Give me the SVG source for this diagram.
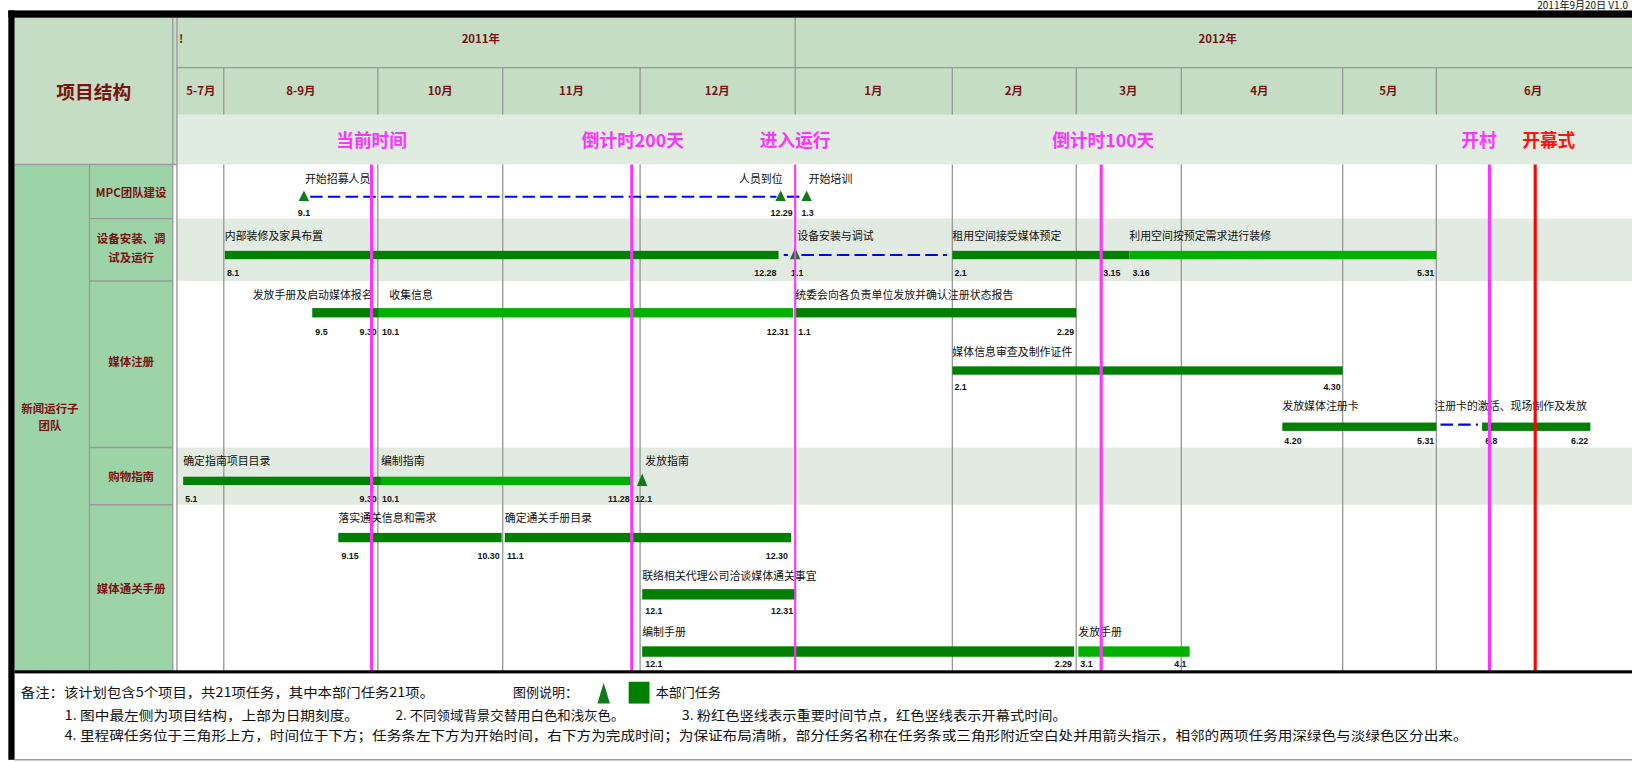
<svg xmlns="http://www.w3.org/2000/svg" width="1632" height="762" viewBox="0 0 1632 762">
<defs>
<style>
.cjk{font-family:"Noto Sans CJK SC","Liberation Sans",sans-serif}
.hdr{font-family:"Noto Sans CJK SC","Liberation Sans",sans-serif;fill:#7a1212;font-weight:bold}
.ms{font-family:"Noto Sans CJK SC","Liberation Sans",sans-serif;fill:#ff33ff;font-weight:bold;font-size:17px}
.tl{font-family:"Noto Sans CJK SC","Liberation Sans",sans-serif;fill:#111;font-size:10.5px}
.dt{font-family:"Liberation Sans",sans-serif;fill:#111;font-size:8.5px;font-weight:bold}
.ft{font-family:"Noto Sans CJK SC","Liberation Sans",sans-serif;fill:#111;font-size:12.5px}
.grid{stroke:#999;stroke-width:1.3}
.dk{fill:#008000}
.lt{fill:#00b000}
.tri{fill:#0f7a1a}
.dash{stroke:#0000ff;stroke-width:2;stroke-dasharray:12 5;fill:none}
.mg{stroke:#ff33ff;stroke-width:3}
</style>
</defs>
<rect width="1632" height="762" fill="#ffffff"/>
<text x="1628" y="9" text-anchor="end" class="cjk" font-size="10" fill="#111">2011年9月20日 V1.0</text>
<g transform="scale(1.040816)">
 <!-- header -->
 <g id="header">
  <rect x="14" y="17" width="1560" height="141" fill="#c5ddc5"/>
  <rect x="170" y="110" width="1400" height="48" fill="#e0ece0"/>
  <line x1="166" y1="17" x2="166" y2="158" class="grid"/>
  <line x1="170" y1="17" x2="170" y2="158" class="grid"/>
  <line x1="170" y1="65" x2="1570" y2="65" class="grid"/>
  <line x1="764" y1="17" x2="764" y2="65" class="grid"/>
  <g class="grid">
   <line x1="215" y1="65" x2="215" y2="110"/><line x1="363" y1="65" x2="363" y2="110"/>
   <line x1="483" y1="65" x2="483" y2="110"/><line x1="615" y1="65" x2="615" y2="110"/>
   <line x1="764" y1="65" x2="764" y2="110"/><line x1="915" y1="65" x2="915" y2="110"/>
   <line x1="1034" y1="65" x2="1034" y2="110"/><line x1="1135" y1="65" x2="1135" y2="110"/>
   <line x1="1290" y1="65" x2="1290" y2="110"/><line x1="1380" y1="65" x2="1380" y2="110"/>
  </g>
  <text x="90" y="95" text-anchor="middle" class="hdr" font-size="18">项目结构</text>
  <text x="172" y="41" class="hdr" font-size="11">!</text>
  <text x="462" y="41" text-anchor="middle" class="hdr" font-size="11">2011年</text>
  <text x="1170" y="41" text-anchor="middle" class="hdr" font-size="11">2012年</text>
  <g class="hdr" font-size="11" text-anchor="middle">
   <text x="193" y="91">5-7月</text><text x="289" y="91">8-9月</text><text x="423" y="91">10月</text>
   <text x="549" y="91">11月</text><text x="689" y="91">12月</text><text x="839" y="91">1月</text>
   <text x="974" y="91">2月</text><text x="1084" y="91">3月</text><text x="1210" y="91">4月</text>
   <text x="1334" y="91">5月</text><text x="1473" y="91">6月</text>
  </g>
  <g class="ms" text-anchor="middle">
   <text x="357" y="141">当前时间</text><text x="608" y="141">倒计时200天</text>
   <text x="764" y="141">进入运行</text><text x="1060" y="141">倒计时100天</text>
   <text x="1421" y="141">开村</text><text x="1488" y="141" fill="#ff1111">开幕式</text>
  </g>
 </g>
 <!-- body backgrounds -->
 <g id="bands">
  <rect x="170" y="158" width="1400" height="487" fill="#ffffff"/>
  <rect x="170" y="210" width="1400" height="60" fill="#e1ebe1"/>
  <rect x="170" y="430" width="1400" height="55" fill="#e1ebe1"/>
 </g>
 <g id="left-structure">
  <rect x="14" y="158" width="152" height="487" fill="#9cd4a7"/>
  <g class="grid">
   <line x1="14" y1="158" x2="170" y2="158"/><line x1="86" y1="158" x2="86" y2="645"/>
   <line x1="86" y1="210" x2="166" y2="210"/><line x1="86" y1="270" x2="166" y2="270"/>
   <line x1="86" y1="430" x2="166" y2="430"/><line x1="86" y1="485" x2="166" y2="485"/>
   <line x1="166" y1="158" x2="166" y2="645"/><line x1="170" y1="158" x2="170" y2="645"/>
  </g>
  <g class="hdr" font-size="11" text-anchor="middle" font-weight="normal">
   <text x="48" y="397">新闻运行子</text><text x="48" y="413">团队</text>
   <text x="126" y="189">MPC团队建设</text>
   <text x="126" y="233">设备安装、调</text><text x="126" y="252">试及运行</text>
   <text x="126" y="352">媒体注册</text>
   <text x="126" y="462">购物指南</text>
   <text x="126" y="570">媒体通关手册</text>
  </g>
 </g>
 <g id="gridlines" class="grid">
  <line x1="215" y1="158" x2="215" y2="645"/><line x1="363" y1="158" x2="363" y2="645"/>
  <line x1="483" y1="158" x2="483" y2="645"/><line x1="615" y1="158" x2="615" y2="645"/>
  <line x1="915" y1="158" x2="915" y2="645"/><line x1="1034" y1="158" x2="1034" y2="645"/>
  <line x1="1135" y1="158" x2="1135" y2="645"/><line x1="1290" y1="158" x2="1290" y2="645"/>
  <line x1="1380" y1="158" x2="1380" y2="645"/>
 </g>
 <!-- connectors -->
 <g id="connectors">
  <line x1="298" y1="189" x2="746" y2="189" class="dash"/>
  <line x1="756" y1="189" x2="770" y2="189" class="dash"/>
  <line x1="753" y1="245" x2="757" y2="245" class="dash"/>
  <line x1="770" y1="245" x2="910" y2="245" class="dash"/>
  <line x1="1384" y1="408" x2="1420" y2="408" class="dash"/>
 </g>
 <!-- MPC -->
 <g id="mpc">
  <polygon points="292,183 287,193 297,193" class="tri"/>
  <polygon points="750,183 745,193 755,193" class="tri"/>
  <polygon points="775,183 770,193 780,193" class="tri"/>
  <text x="293" y="176" class="tl">开始招募人员</text>
  <text x="752" y="176" class="tl" text-anchor="end">人员到位</text>
  <text x="777" y="176" class="tl">开始培训</text>
  <text x="292" y="208" class="dt" text-anchor="middle">9.1</text>
  <text x="751" y="208" class="dt" text-anchor="middle">12.29</text>
  <text x="770" y="208" class="dt">1.3</text>
 </g>
 <g id="equipment">
  <rect x="216" y="241" width="532" height="8" class="dk"/>
  <polygon points="764,238 759,249 769,249" class="tri"/>
  <rect x="915" y="241" width="170" height="8" class="dk"/>
  <rect x="1085" y="241" width="295" height="8" class="lt"/>
  <text x="216" y="231" class="tl">内部装修及家具布置</text>
  <text x="766" y="231" class="tl">设备安装与调试</text>
  <text x="915" y="231" class="tl">租用空间接受媒体预定</text>
  <text x="1085" y="231" class="tl">利用空间按预定需求进行装修</text>
  <text x="218" y="265" class="dt">8.1</text><text x="746" y="265" class="dt" text-anchor="end">12.28</text>
  <text x="760" y="265" class="dt">1.1</text><text x="917" y="265" class="dt">2.1</text>
  <text x="1060" y="265" class="dt">3.15</text><text x="1088" y="265" class="dt">3.16</text>
  <text x="1378" y="265" class="dt" text-anchor="end">5.31</text>
 </g>
 <g id="registration">
  <rect x="300" y="296" width="64" height="9" class="dk"/>
  <rect x="364" y="296" width="398" height="9" class="lt"/>
  <rect x="764" y="296" width="270" height="9" class="dk"/>
  <rect x="915" y="352" width="375" height="8" class="dk"/>
  <rect x="1232" y="406" width="148" height="8" class="dk"/>
  <rect x="1424" y="406" width="104" height="8" class="dk"/>
  <text x="358" y="287" class="tl" text-anchor="end">发放手册及启动媒体报名</text>
  <text x="374" y="287" class="tl">收集信息</text>
  <text x="764" y="287" class="tl">统委会向各负责单位发放并确认注册状态报告</text>
  <text x="915" y="342" class="tl">媒体信息审查及制作证件</text>
  <text x="1232" y="394" class="tl">发放媒体注册卡</text>
  <text x="1378" y="394" class="tl">注册卡的激活、现场制作及发放</text>
  <text x="303" y="322" class="dt">9.5</text><text x="362" y="322" class="dt" text-anchor="end">9.30</text>
  <text x="367" y="322" class="dt">10.1</text><text x="758" y="322" class="dt" text-anchor="end">12.31</text>
  <text x="767" y="322" class="dt">1.1</text><text x="1032" y="322" class="dt" text-anchor="end">2.29</text>
  <text x="917" y="375" class="dt">2.1</text><text x="1288" y="375" class="dt" text-anchor="end">4.30</text>
  <text x="1234" y="427" class="dt">4.20</text><text x="1378" y="427" class="dt" text-anchor="end">5.31</text>
  <text x="1427" y="427" class="dt">6.8</text><text x="1526" y="427" class="dt" text-anchor="end">6.22</text>
 </g>
 <g id="guide">
  <rect x="176" y="458" width="190" height="8" class="dk"/>
  <rect x="366" y="458" width="241" height="8" class="lt"/>
  <polygon points="617,455 612,467 622,467" class="tri"/>
  <text x="176" y="447" class="tl">确定指南项目目录</text>
  <text x="366" y="447" class="tl">编制指南</text>
  <text x="620" y="447" class="tl">发放指南</text>
  <text x="178" y="482" class="dt">5.1</text><text x="362" y="482" class="dt" text-anchor="end">9.30</text>
  <text x="367" y="482" class="dt">10.1</text><text x="605" y="482" class="dt" text-anchor="end">11.28</text>
  <text x="610" y="482" class="dt">12.1</text>
 </g>
 <g id="customs">
  <rect x="325" y="512" width="157" height="9" class="dk"/>
  <rect x="485" y="512" width="275" height="9" class="dk"/>
  <rect x="617" y="566" width="148" height="10" class="dk"/>
  <rect x="617" y="621" width="415" height="10" class="dk"/>
  <rect x="1036" y="621" width="107" height="10" class="lt"/>
  <text x="325" y="502" class="tl">落实通关信息和需求</text>
  <text x="485" y="502" class="tl">确定通关手册目录</text>
  <text x="617" y="557" class="tl">联络相关代理公司洽谈媒体通关事宜</text>
  <text x="617" y="611" class="tl">编制手册</text>
  <text x="1036" y="611" class="tl">发放手册</text>
  <text x="328" y="537" class="dt">9.15</text><text x="480" y="537" class="dt" text-anchor="end">10.30</text>
  <text x="487" y="537" class="dt">11.1</text><text x="757" y="537" class="dt" text-anchor="end">12.30</text>
  <text x="620" y="590" class="dt">12.1</text><text x="762" y="590" class="dt" text-anchor="end">12.31</text>
  <text x="620" y="641" class="dt">12.1</text><text x="1030" y="641" class="dt" text-anchor="end">2.29</text>
  <text x="1038" y="641" class="dt">3.1</text><text x="1140" y="641" class="dt" text-anchor="end">4.1</text>
 </g>
 <!-- key date lines -->
 <g id="keylines">
  <line x1="357" y1="158" x2="357" y2="645" class="mg"/>
  <line x1="607" y1="158" x2="607" y2="645" class="mg"/>
  <line x1="764" y1="158" x2="764" y2="645" stroke="#ff33ff" stroke-width="2"/>
  <line x1="1058" y1="158" x2="1058" y2="645" class="mg"/>
  <line x1="1431" y1="158" x2="1431" y2="645" class="mg"/>
  <line x1="1475" y1="158" x2="1475" y2="645" stroke="#ff0000" stroke-width="3"/>
 </g>
 <!-- frame -->
 <g id="frame">
  <rect x="8" y="10" width="1570" height="7" fill="#000"/>
  <rect x="8" y="10" width="6" height="720" fill="#000"/>
  <rect x="14" y="644" width="1560" height="3" fill="#000"/>
  <line x1="14" y1="730" x2="1570" y2="730" stroke="#999" stroke-width="1.5"/>
 </g>
 <!-- footer -->
 <g id="footer">
  <text x="20" y="670" class="ft" textLength="397" lengthAdjust="spacingAndGlyphs">备注：该计划包含5个项目，共21项任务，其中本部门任务21项。</text>
  <text x="493" y="670" class="ft">图例说明：</text>
  <polygon points="580,656 574,676 586,676" class="tri"/>
  <rect x="604" y="655" width="20" height="21" fill="#008000"/>
  <text x="630" y="670" class="ft">本部门任务</text>
  <text x="62" y="692" class="ft" textLength="283" lengthAdjust="spacingAndGlyphs">1. 图中最左侧为项目结构，上部为日期刻度。</text>
  <text x="380" y="692" class="ft" textLength="220" lengthAdjust="spacingAndGlyphs">2. 不同领域背景交替用白色和浅灰色。</text>
  <text x="655" y="692" class="ft" textLength="370" lengthAdjust="spacingAndGlyphs">3. 粉红色竖线表示重要时间节点，红色竖线表示开幕式时间。</text>
  <text x="62" y="711" class="ft" textLength="1348" lengthAdjust="spacingAndGlyphs">4. 里程碑任务位于三角形上方，时间位于下方；任务条左下方为开始时间，右下方为完成时间；为保证布局清晰，部分任务名称在任务条或三角形附近空白处并用箭头指示，相邻的两项任务用深绿色与淡绿色区分出来。</text>
 </g>
</g>
</svg>
